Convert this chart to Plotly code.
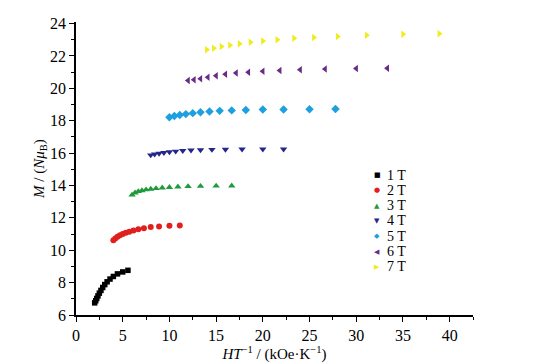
import plotly.graph_objects as go

labels = ["1 T", "2 T", "3 T", "4 T", "5 T", "6 T", "7 T"]

x_1T = [2.0, 2.11, 2.22, 2.35, 2.5, 2.67, 2.86, 3.08, 3.33, 3.64, 4.0, 4.44, 5.0, 5.56]
x_2T = [4.0, 4.21, 4.44, 4.71, 5.0, 5.33, 5.71, 6.15, 6.67, 7.27, 8.0, 8.89, 10.0, 11.11]
x_3T = [6.0, 6.32, 6.67, 7.06, 7.5, 8.0, 8.57, 9.23, 10.0, 10.91, 12.0, 13.33, 15.0, 16.67]
x_4T = [8.0, 8.42, 8.89, 9.41, 10.0, 10.67, 11.43, 12.31, 13.33, 14.55, 16.0, 17.78, 20.0, 22.22]
x_5T = [10.0, 10.53, 11.11, 11.76, 12.5, 13.33, 14.29, 15.38, 16.67, 18.18, 20.0, 22.22, 25.0, 27.78]
x_6T = [12.0, 12.63, 13.33, 14.12, 15.0, 16.0, 17.14, 18.46, 20.0, 21.82, 24.0, 26.67, 30.0, 33.33]
x_7T = [14.0, 14.74, 15.56, 16.47, 17.5, 18.67, 20.0, 21.54, 23.33, 25.45, 28.0, 31.11, 35.0, 38.89]

m_1T = [6.75, 6.88, 7.02, 7.18, 7.35, 7.52, 7.70, 7.88, 8.05, 8.22, 8.38, 8.54, 8.66, 8.76]
m_2T = [10.62, 10.72, 10.83, 10.92, 11.0, 11.08, 11.15, 11.22, 11.29, 11.36, 11.43, 11.47, 11.51, 11.53]
m_3T = [13.42, 13.55, 13.63, 13.69, 13.74, 13.78, 13.82, 13.86, 13.89, 13.92, 13.94, 13.96, 13.97, 13.98]
m_4T = [15.88, 15.93, 15.98, 16.03, 16.07, 16.11, 16.15, 16.18, 16.2, 16.22, 16.23, 16.24, 16.24, 16.24]
m_5T = [18.22, 18.29, 18.36, 18.41, 18.47, 18.53, 18.57, 18.61, 18.64, 18.67, 18.69, 18.7, 18.71, 18.72]
m_6T = [20.48, 20.53, 20.59, 20.68, 20.78, 20.87, 20.95, 21.0, 21.05, 21.11, 21.15, 21.19, 21.22, 21.25]
m_7T = [22.38, 22.48, 22.58, 22.66, 22.75, 22.85, 22.93, 23.01, 23.09, 23.15, 23.21, 23.28, 23.34, 23.38]

xs = [x_1T, x_2T, x_3T, x_4T, x_5T, x_6T, x_7T]
ms = [m_1T, m_2T, m_3T, m_4T, m_5T, m_6T, m_7T]
colors = ["#000000", "#e0201e", "#1f9a3c", "#25268c", "#1e9fe0", "#6a2a88", "#f0ec1c"]
symbols = ["square", "circle", "triangle-up", "triangle-down", "diamond", "triangle-left", "triangle-right"]
glyphs = ["■", "●", "▲", "▼", "◆", "◀", "▶"]
sizes = [5.5, 6, 6.5, 6.5, 6.5, 6.5, 6.5]

FONT = "Liberation Serif"

# the page body has an 8px margin, so the figure is sized to fit inside it
W, H = 527, 356
L, R, T, B = 68, 62, 14, 49

fig = go.Figure()
for lab, x, m, c, s, sz in zip(labels, xs, ms, colors, symbols, sizes):
    fig.add_trace(go.Scatter(
        x=x, y=m, mode="markers", name=lab, showlegend=False,
        marker=dict(symbol=s, color=c, size=sz, line=dict(width=0)),
    ))

axis_common = dict(
    showline=True, linecolor="black", linewidth=1.5,
    ticks="outside", ticklen=5, tickwidth=1.2, tickcolor="black",
    showgrid=False, zeroline=False, mirror=False, automargin=False,
    tickfont=dict(family=FONT, size=16, color="black"),
)

fig.update_xaxes(
    range=[0, 42.5], dtick=5, tick0=0,
    minor=dict(ticks="outside", ticklen=3, dtick=2.5, tickcolor="black", tickwidth=1),
    title=dict(text="<i>HT</i><sup>−1</sup> / (kOe·K<sup>−1</sup>)",
               font=dict(family=FONT, size=15, color="black"), standoff=0),
    **axis_common,
)
fig.update_yaxes(
    range=[6, 24.1], dtick=2, tick0=6,
    minor=dict(ticks="outside", ticklen=3, dtick=1, tickcolor="black", tickwidth=1),
    title=dict(text="<i>M</i> / (<i>Nμ</i><sub>B</sub>)",
               font=dict(family=FONT, size=15, color="black"), standoff=2),
    **axis_common,
)

# legend drawn as text rows (compact spacing like the reference)
plot_w = W - L - R
plot_h = H - T - B
row_px = 15.3
y_first = 175 - 8          # screen y of first row, minus page offset
y0 = 1 - (y_first - T) / plot_h
gx = (377 - 8 - L) / plot_w
for i, (lab, c, g) in enumerate(zip(labels, colors, glyphs)):
    yy = y0 - i * row_px / plot_h
    fig.add_annotation(
        xref="paper", yref="paper", x=gx, y=yy,
        xanchor="center", yanchor="middle", showarrow=False,
        text=g, font=dict(family="DejaVu Sans", size=7, color=c),
    )
    fig.add_annotation(
        xref="paper", yref="paper", x=gx, y=yy,
        xanchor="left", yanchor="middle", showarrow=False,
        text=lab, font=dict(family=FONT, size=14, color="black"),
        xshift=8,
    )

fig.update_layout(
    width=W, height=H,
    margin=dict(l=L, r=R, t=T, b=B),
    paper_bgcolor="white", plot_bgcolor="white",
    showlegend=False,
    font=dict(family=FONT),
)

fig.write_html("out.html")
